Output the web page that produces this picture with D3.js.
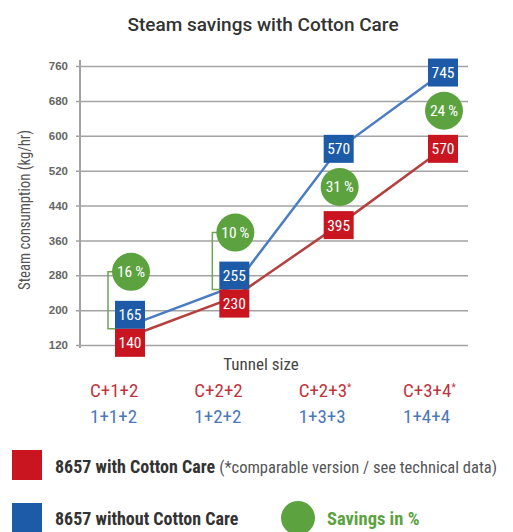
<!DOCTYPE html>
<html>
<head>
<meta charset="utf-8">
<script src="https://cdn.jsdelivr.net/npm/d3@7"></script>
<style>
  body { margin: 0; background: #fff; }
  svg { display: block; font-family: "Liberation Sans Narrow", "Arial Narrow", "Roboto Condensed", sans-serif; }
</style>
</head>
<body>
<script>
var categoriesWith = ["C+1+2", "C+2+2", "C+2+3", "C+3+4"];
var starred = [false, false, true, true];
var categoriesWithout = ["1+1+2", "1+2+2", "1+3+3", "1+4+4"];
var withCare = [140, 230, 395, 570];
var withoutCare = [165, 255, 570, 745];
var savings = [16, 10, 31, 24];
var yTicks = [120, 200, 280, 360, 440, 520, 600, 680, 760];

var red = "#c8151f", blue = "#1d5aa8", green = "#5ca33f";

var width = 513, height = 532;

var svg = d3.select("body")
    .append("svg")
    .attr("width", width)
    .attr("height", height);

var x = d3.scalePoint()
    .domain(d3.range(categoriesWith.length))
    .range([130, 443]);

var y = d3.scaleLinear()
    .domain([120, 760])
    .range([345, 66]);

// title
svg.append("text")
    .attr("x", 263)
    .attr("y", 31)
    .attr("text-anchor", "middle")
    .style("font-family", "Roboto, sans-serif")
    .style("font-weight", 500)
    .style("font-size", "19px")
    .style("fill", "#333")
    .text("Steam savings with Cotton Care");

// gridlines + tick labels
var yAxis = d3.axisLeft(y)
    .tickValues(yTicks)
    .tickSize(-(468 - 76))
    .tickPadding(8);

var gAxis = svg.append("g")
    .attr("transform", "translate(76,0)")
    .call(yAxis);

gAxis.select(".domain").remove();
gAxis.selectAll(".tick line")
    .attr("stroke", "#a3a3a3")
    .attr("stroke-width", 1.5);
gAxis.selectAll(".tick text")
    .style("font-family", "'Liberation Sans', Arial, sans-serif")
    .style("font-size", "11.5px")
    .style("font-weight", "bold")
    .style("fill", "#666");

// vertical axis line
svg.append("line")
    .attr("x1", 80).attr("x2", 80)
    .attr("y1", 60).attr("y2", 348)
    .attr("stroke", "#a3a3a3")
    .attr("stroke-width", 2);

svg.append("text")
    .attr("transform", "translate(30," + 210 + ") rotate(-90)")
    .attr("text-anchor", "middle")
    .attr("textLength", 160)
    .attr("lengthAdjust", "spacingAndGlyphs")
    .style("font-size", "16px")
    .style("fill", "#555")
    .text("Steam consumption (kg/hr)");

// lines
var line = function (vals) {
    return d3.line()
        .x(function (d, i) { return x(i); })
        .y(function (d) { return y(d); })(vals);
};

svg.append("path")
    .attr("d", line(withCare))
    .attr("fill", "none")
    .attr("stroke", "#b5413f")
    .attr("stroke-width", 2.5);

svg.append("path")
    .attr("d", line(withoutCare))
    .attr("fill", "none")
    .attr("stroke", "#4a7cc4")
    .attr("stroke-width", 2.5);

// box + circle positions
var boxW = 30, boxH = 28, r = 19;
var marks = withCare.map(function (v, i) {
    var ya = y(withoutCare[i]), yb = y(v);
    var m = { i: i, cx: x(i), ya: ya, yb: yb, stacked: false };
    if (yb - ya < boxH + 4) {
        var mid = (ya + yb) / 2 - 2;
        m.ya = mid - boxH / 2;
        m.yb = mid + boxH / 2;
        m.stacked = true;
        m.cy = m.ya - boxH / 2 - 10 - r;
    } else {
        m.cy = (ya + yb) / 2;
    }
    return m;
});

// brackets for stacked savings
marks.filter(function (m) { return m.stacked; }).forEach(function (m) {
    var bx = m.cx - 22;
    var yBottom = m.ya + boxH / 2;
    svg.append("path")
        .attr("d", "M" + (m.cx - r + 3) + "," + m.cy + "H" + bx + "V" + yBottom + "H" + (m.cx - boxW / 2))
        .attr("fill", "none")
        .attr("stroke", "#6aa84f")
        .attr("stroke-width", 1.5);
});

function box(g, cx, cy, fill, label) {
    g.append("rect")
        .attr("x", cx - boxW / 2)
        .attr("y", cy - boxH / 2)
        .attr("width", boxW)
        .attr("height", boxH)
        .attr("fill", fill);
    g.append("text")
        .attr("x", cx)
        .attr("y", cy + 5.5)
        .attr("text-anchor", "middle")
        .style("font-size", "15.5px")
        .style("fill", "#fff")
        .text(label);
}

var gMarks = svg.append("g");
marks.forEach(function (m) {
    box(gMarks, m.cx, m.ya, blue, withoutCare[m.i]);
    box(gMarks, m.cx, m.yb, red, withCare[m.i]);
    gMarks.append("circle")
        .attr("cx", m.cx + 1)
        .attr("cy", m.cy)
        .attr("r", r)
        .attr("fill", green);
    gMarks.append("text")
        .attr("x", m.cx + 1)
        .attr("y", m.cy + 5.5)
        .attr("text-anchor", "middle")
        .style("font-size", "15.5px")
        .style("fill", "#fff")
        .text(savings[m.i] + "\u2009%");
});

// x axis labels
svg.append("text")
    .attr("x", 261)
    .attr("y", 370)
    .attr("text-anchor", "middle")
    .style("font-size", "17px")
    .style("fill", "#444")
    .text("Tunnel size");

var row1 = svg.append("g").selectAll("text")
    .data(categoriesWith)
    .enter().append("text")
    .attr("x", function (d, i) { return x(i) - 40; })
    .attr("y", 397)
    .style("font-size", "19px")
    .style("fill", "#c0343c")
    .text(function (d) { return d; });

row1.filter(function (d, i) { return starred[i]; })
    .append("tspan")
    .attr("dy", -6)
    .style("font-size", "10px")
    .text("*");

svg.append("g").selectAll("text")
    .data(categoriesWithout)
    .enter().append("text")
    .attr("x", function (d, i) { return x(i) - 40; })
    .attr("y", 423)
    .style("font-size", "19px")
    .style("fill", "#4a78b8")
    .text(function (d) { return d; });

// legend
var legend = svg.append("g");
legend.append("rect")
    .attr("x", 12).attr("y", 450)
    .attr("width", 30).attr("height", 30)
    .attr("fill", red);
var t1 = legend.append("text")
    .attr("x", 55).attr("y", 473)
    .style("font-size", "18px")
    .style("fill", "#333");
t1.append("tspan").style("font-weight", "bold").text("8657 with Cotton Care ");
t1.append("tspan").style("fill", "#555").style("font-size", "16.5px")
    .text("(*comparable version / see technical data)");

legend.append("rect")
    .attr("x", 12).attr("y", 503)
    .attr("width", 30).attr("height", 30)
    .attr("fill", blue);
legend.append("text")
    .attr("x", 55).attr("y", 525)
    .style("font-size", "18px")
    .style("font-weight", "bold")
    .style("fill", "#333")
    .text("8657 without Cotton Care");

legend.append("circle")
    .attr("cx", 298).attr("cy", 518)
    .attr("r", 17)
    .attr("fill", green);
legend.append("text")
    .attr("x", 327).attr("y", 525)
    .style("font-size", "18.5px")
    .style("font-weight", "bold")
    .style("fill", green)
    .text("Savings in %");
</script>
</body>
</html>
